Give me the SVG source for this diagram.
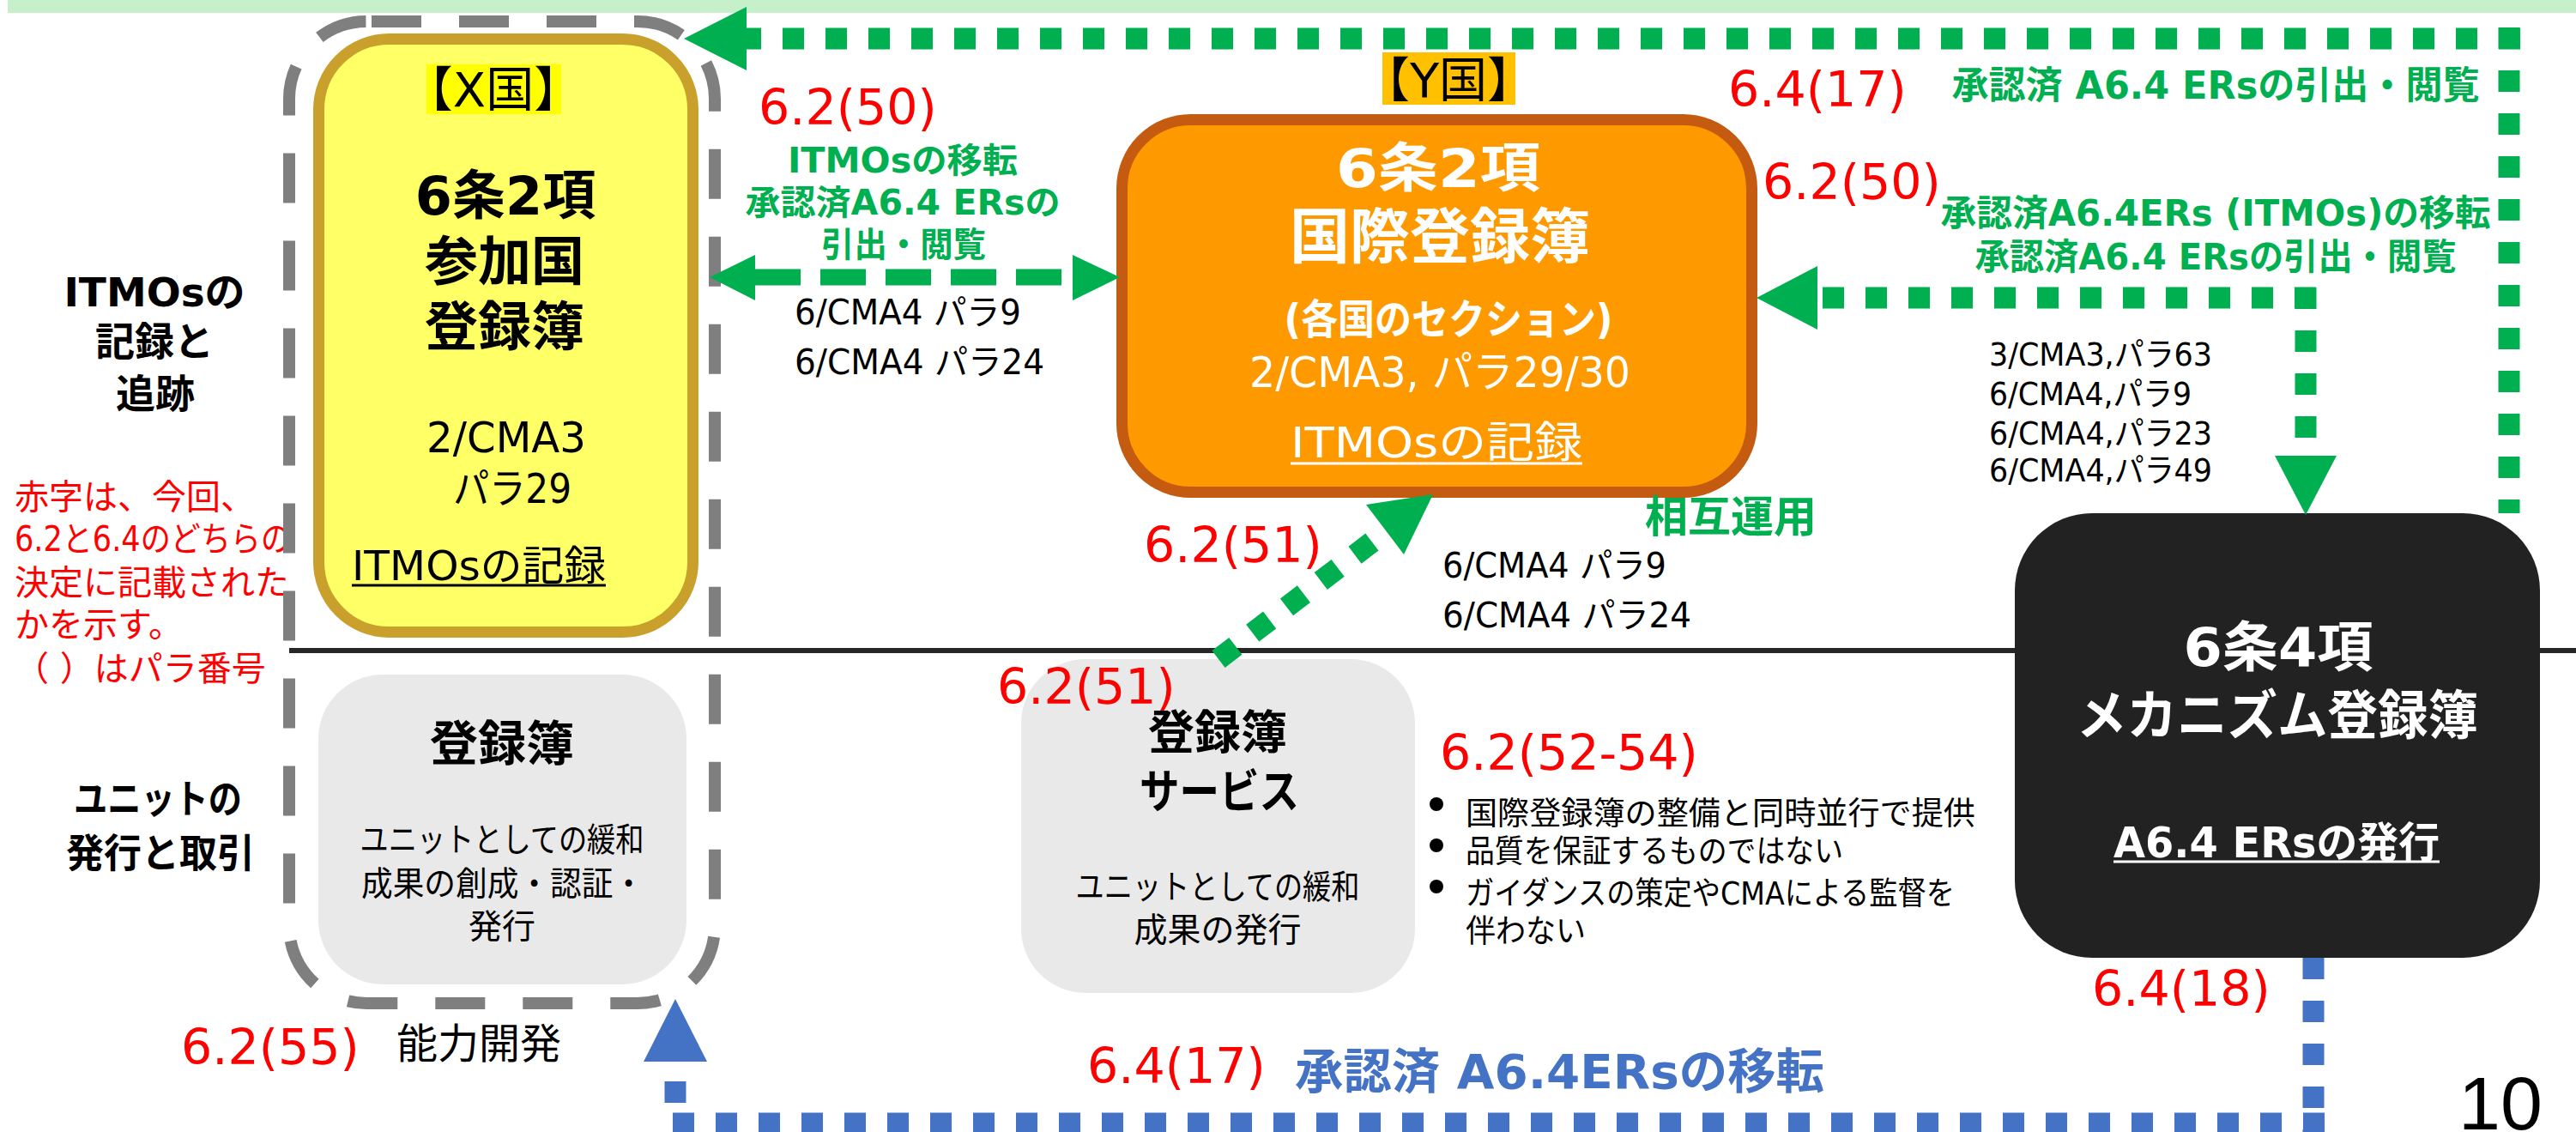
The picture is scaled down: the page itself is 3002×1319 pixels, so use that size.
<svg xmlns="http://www.w3.org/2000/svg" width="3002" height="1319" viewBox="0 0 3002 1319">
<style>
text { font-family: "DejaVu Sans", "Noto Sans CJK JP", sans-serif; fill: #000; }
.b { font-weight: 700; }
.m { text-anchor: middle; }
.w { fill: #ffffff; }
.g { fill: #00b050; }
.bl { fill: #4472c4; }
.red { fill: #ff0000; font-size: 57px; font-family: "DejaVu Sans", sans-serif; }
.note { fill: #ff0000; font-size: 40px; }
.para { font-size: 40px; }
.gd { fill: none; stroke: #00b050; stroke-width: 25; stroke-dasharray: 25 25; }
.bd { fill: none; stroke: #4472c4; stroke-width: 25; stroke-dasharray: 25 25; }
.gbox { fill: #e9e9e9; }
</style>

<rect id="top-band" x="9" y="0" width="2993" height="15" fill="#c5f0c9"/>
<line id="divider" x1="337" y1="758" x2="3002" y2="758" stroke="#262626" stroke-width="6"/>

<g id="side-labels">
  <text class="b m" x="180" y="357" font-size="47">ITMOsの</text>
  <text class="b m" x="180" y="414" font-size="46">記録と</text>
  <text class="b m" x="181" y="475" font-size="46">追跡</text>
  <text class="b m" x="184" y="947" font-size="46" textLength="196" lengthAdjust="spacingAndGlyphs">ユニットの</text>
  <text class="b m" x="187" y="1010" font-size="46" textLength="220" lengthAdjust="spacingAndGlyphs">発行と取引</text>
</g>

<g id="legend-note">
  <text class="note" x="17" y="593">赤字は、今回、</text>
  <text class="note" x="17" y="642" textLength="322" lengthAdjust="spacingAndGlyphs">6.2と6.4のどちらの</text>
  <text class="note" x="17" y="693">決定に記載された</text>
  <text class="note" x="17" y="742">かを示す。</text>
  <text class="note" x="17" y="793">（ ）はパラ番号</text>
</g>

<g id="x-country-group">
  <rect x="337" y="25" width="496" height="1144" rx="90" fill="none" stroke="#7f7f7f" stroke-width="14" stroke-dasharray="58 44" stroke-dashoffset="96"/>
</g>

<g id="x-registry">
  <rect x="371.5" y="45.5" width="436" height="691" rx="82" fill="#ffff66" stroke="#c9a02c" stroke-width="13"/>
  <rect x="497" y="75" width="157" height="58" fill="#ffff00"/>
  <text class="m" x="575" y="124" font-size="56">【X国】</text>
  <text class="b m" x="589" y="250" font-size="62">6条2項</text>
  <text class="b m" x="588" y="327" font-size="62">参加国</text>
  <text class="b m" x="588" y="403" font-size="62">登録簿</text>
  <text class="m" x="590" y="527" font-size="49" textLength="186" lengthAdjust="spacingAndGlyphs">2/CMA3</text>
  <text class="m" x="597" y="586" font-size="48" textLength="138" lengthAdjust="spacingAndGlyphs">パラ29</text>
  <text x="410" y="676" font-size="48" textLength="296" lengthAdjust="spacingAndGlyphs">ITMOsの記録</text>
  <line x1="410" y1="682" x2="706" y2="682" stroke="#000" stroke-width="3"/>
</g>

<g id="x-unit-registry">
  <rect class="gbox" x="371" y="786" width="429" height="361" rx="75"/>
  <text class="b m" x="585" y="886" font-size="56">登録簿</text>
  <text class="m" x="585" y="992" font-size="39" textLength="331" lengthAdjust="spacingAndGlyphs">ユニットとしての緩和</text>
  <text class="m" x="586" y="1043" font-size="39" textLength="330" lengthAdjust="spacingAndGlyphs">成果の創成・認証・</text>
  <text class="m" x="585" y="1093" font-size="39">発行</text>
</g>

<g id="registry-service">
  <rect class="gbox" x="1190" y="768" width="459" height="389" rx="75"/>
  <text class="b m" x="1419" y="873" font-size="54">登録簿</text>
  <text class="b m" x="1421" y="942" font-size="54" textLength="186" lengthAdjust="spacingAndGlyphs">サービス</text>
  <text class="m" x="1419" y="1047" font-size="39" textLength="331" lengthAdjust="spacingAndGlyphs">ユニットとしての緩和</text>
  <text class="m" x="1419" y="1097" font-size="39">成果の発行</text>
</g>

<g id="international-registry">
  <rect x="1611" y="61" width="155" height="61" fill="#ffc000"/>
  <text class="m" x="1688" y="113" font-size="56">【Y国】</text>
  <rect x="1307.5" y="139.5" width="734" height="434" rx="80" fill="#ff9900" stroke="#c55a11" stroke-width="13"/>
  <text class="b m w" x="1676" y="218" font-size="62" textLength="238" lengthAdjust="spacingAndGlyphs">6条2項</text>
  <text class="b m w" x="1678" y="301" font-size="70">国際登録簿</text>
  <text class="b m w" x="1688" y="389" font-size="48" textLength="383" lengthAdjust="spacingAndGlyphs">(各国のセクション)</text>
  <text class="m w" x="1678" y="451" font-size="50" textLength="444" lengthAdjust="spacingAndGlyphs">2/CMA3, パラ29/30</text>
  <text class="w" x="1504" y="533" font-size="50" textLength="340" lengthAdjust="spacingAndGlyphs">ITMOsの記録</text>
  <line x1="1504" y1="540" x2="1844" y2="540" stroke="#fff" stroke-width="3"/>
</g>

<g id="mechanism-registry">
  <rect x="2348" y="598" width="612" height="518" rx="90" fill="#222222"/>
  <text class="b m w" x="2655" y="776" font-size="63" textLength="221" lengthAdjust="spacingAndGlyphs">6条4項</text>
  <text class="b m w" x="2654" y="856" font-size="62" textLength="468" lengthAdjust="spacingAndGlyphs">メカニズム登録簿</text>
  <text class="b w" x="2463" y="999" font-size="49" textLength="380" lengthAdjust="spacingAndGlyphs">A6.4 ERsの発行</text>
  <line x1="2463" y1="1004" x2="2843" y2="1004" stroke="#fff" stroke-width="3"/>
</g>

<g id="connectors">
  <path class="gd" d="M2937 45 H870"/>
  <path class="gd" d="M2924 32 V598"/>
  <polygon points="797,45 870,8 870,82" fill="#00b050"/>

  <path d="M880 323 H1250" fill="none" stroke="#00b050" stroke-width="19" stroke-dasharray="53 23"/>
  <polygon points="827,323 880,297 880,350" fill="#00b050"/>
  <polygon points="1305,323 1250,297 1250,350" fill="#00b050"/>

  <path class="gd" d="M2699 347 H2118"/>
  <path class="gd" d="M2687 335 V531"/>
  <polygon points="2047,347 2118,310 2118,384" fill="#00b050"/>
  <polygon points="2687,600 2651,531 2723,531" fill="#00b050"/>

  <path class="gd" d="M1420 768 L1614 620"/>
  <polygon points="1670,576 1592,588 1636,646" fill="#00b050"/>

  <path class="bd" d="M2696 1116 V1322"/>
  <path class="bd" d="M2709 1309 H775"/>
  <path class="bd" d="M787 1285 V1237"/>
  <polygon points="787,1164 750,1237 824,1237" fill="#4472c4"/>
</g>

<g id="connector-labels">
  <text class="red" x="884" y="145">6.2(50)</text>
  <text class="b m g" x="1052" y="201" font-size="40" textLength="268" lengthAdjust="spacingAndGlyphs">ITMOsの移転</text>
  <text class="b m g" x="1052" y="250" font-size="40" textLength="367" lengthAdjust="spacingAndGlyphs">承認済A6.4 ERsの</text>
  <text class="b m g" x="1053" y="299" font-size="40" textLength="192" lengthAdjust="spacingAndGlyphs">引出・閲覧</text>
  <text class="para" x="926" y="378" textLength="264" lengthAdjust="spacingAndGlyphs">6/CMA4 パラ9</text>
  <text class="para" x="926" y="436" textLength="291" lengthAdjust="spacingAndGlyphs">6/CMA4 パラ24</text>

  <text class="red" x="2014" y="124">6.4(17)</text>
  <text class="b m g" x="2582" y="115" font-size="44" textLength="615" lengthAdjust="spacingAndGlyphs">承認済 A6.4 ERsの引出・閲覧</text>
  <text class="red" x="2054" y="232">6.2(50)</text>
  <text class="b m g" x="2582" y="263" font-size="42" textLength="641" lengthAdjust="spacingAndGlyphs">承認済A6.4ERs (ITMOs)の移転</text>
  <text class="b m g" x="2582" y="314" font-size="42" textLength="561" lengthAdjust="spacingAndGlyphs">承認済A6.4 ERsの引出・閲覧</text>
  <text x="2318" y="426" font-size="38" textLength="260" lengthAdjust="spacingAndGlyphs">3/CMA3,パラ63</text>
  <text x="2318" y="472" font-size="38" textLength="236" lengthAdjust="spacingAndGlyphs">6/CMA4,パラ9</text>
  <text x="2318" y="518" font-size="38" textLength="260" lengthAdjust="spacingAndGlyphs">6/CMA4,パラ23</text>
  <text x="2318" y="561" font-size="38" textLength="260" lengthAdjust="spacingAndGlyphs">6/CMA4,パラ49</text>

  <text class="b g" x="1917" y="620" font-size="50">相互運用</text>
  <text class="red" x="1333" y="655">6.2(51)</text>
  <text class="para" x="1681" y="673" textLength="261" lengthAdjust="spacingAndGlyphs">6/CMA4 パラ9</text>
  <text class="para" x="1681" y="731" textLength="290" lengthAdjust="spacingAndGlyphs">6/CMA4 パラ24</text>
  <text class="red" x="1162" y="820">6.2(51)</text>

  <text class="red" x="1678" y="897">6.2(52-54)</text>
  <circle cx="1674" cy="937" r="8" fill="#000"/>
  <circle cx="1674" cy="985" r="8" fill="#000"/>
  <circle cx="1674" cy="1033" r="8" fill="#000"/>
  <text x="1708" y="961" font-size="37" textLength="594" lengthAdjust="spacingAndGlyphs">国際登録簿の整備と同時並行で提供</text>
  <text x="1708" y="1005" font-size="37" textLength="440" lengthAdjust="spacingAndGlyphs">品質を保証するものではない</text>
  <text x="1708" y="1054" font-size="37" textLength="570" lengthAdjust="spacingAndGlyphs">ガイダンスの策定やCMAによる監督を</text>
  <text x="1708" y="1098" font-size="37" textLength="140" lengthAdjust="spacingAndGlyphs">伴わない</text>

  <text class="red" x="2438" y="1172">6.4(18)</text>
  <text class="red" x="211" y="1240">6.2(55)</text>
  <text x="462" y="1233" font-size="48">能力開発</text>
  <text class="red" x="1267" y="1262">6.4(17)</text>
  <text class="b bl" x="1509" y="1268" font-size="56" textLength="617" lengthAdjust="spacingAndGlyphs">承認済 A6.4ERsの移転</text>
</g>

<text id="page-number" x="2865" y="1316" font-size="88" style="font-family:'Liberation Sans', Arial, sans-serif">10</text>
</svg>
